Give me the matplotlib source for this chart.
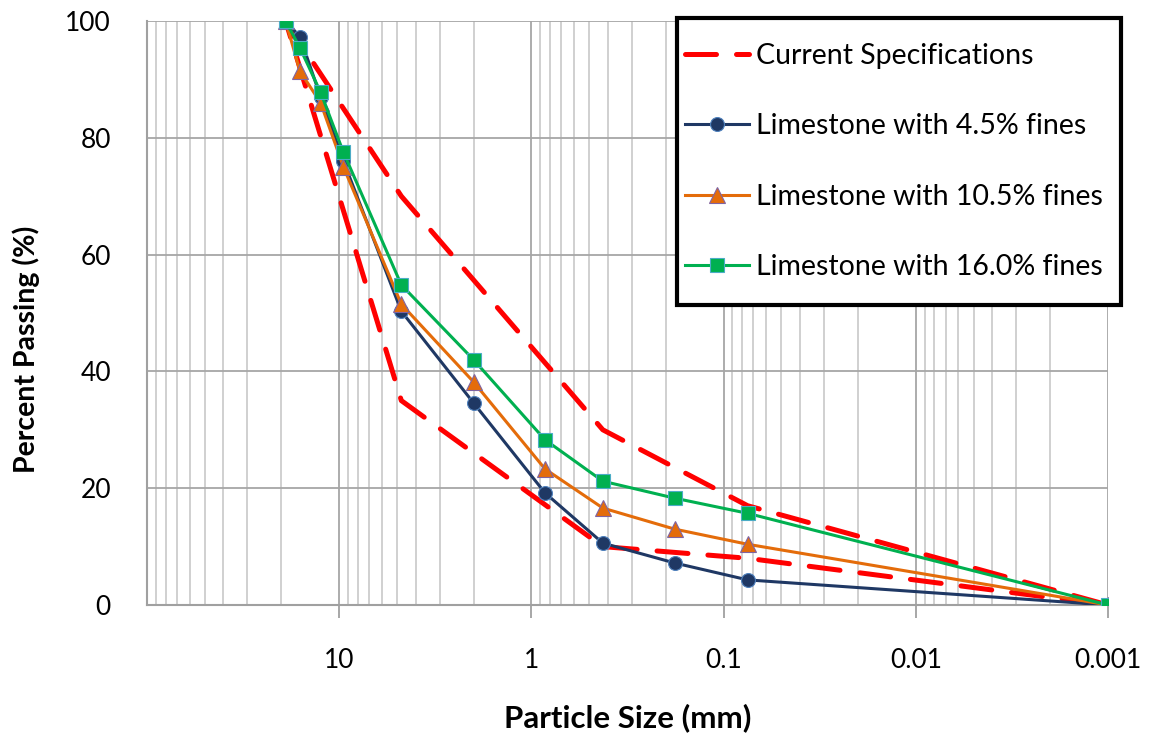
import matplotlib
matplotlib.use("Agg")
import matplotlib.pyplot as plt
from matplotlib.patches import Rectangle
from matplotlib.ticker import LogLocator, FixedLocator, NullFormatter

plt.rcParams['font.family'] = ['Lato', 'DejaVu Sans']

# Sieve sizes (mm)
sizes = [19.0, 16.0, 12.5, 9.5, 4.75, 2.0, 0.85, 0.425, 0.18, 0.075, 0.001]

lime_45 = [100, 97.3, 87.0, 76.0, 50.3, 34.6, 19.2, 10.6, 7.2, 4.3, 0]
lime_105 = [100, 91.4, 86.0, 75.0, 51.5, 38.2, 23.3, 16.6, 13.0, 10.4, 0]
lime_160 = [100, 95.4, 87.8, 77.5, 54.8, 42.0, 28.3, 21.2, 18.3, 15.7, 0]

# Specification envelope: upper band then lower band back up
spec_upper_sizes = [19.0, 4.75, 0.425, 0.075, 0.001]
spec_upper = [100, 70, 30, 17, 0]
spec_lower_sizes = [0.001, 0.075, 0.425, 4.75, 19.0]
spec_lower = [0, 8, 10, 35, 100]

labels = ["Current Specifications", "Limestone with 4.5% fines",
          "Limestone with 10.5% fines", "Limestone with 16.0% fines"]

xticks = [10, 1, 0.1, 0.01, 0.001]
xticklabels = ["10", "1", "0.1", "0.01", "0.001"]
yticks = [0, 20, 40, 60, 80, 100]

W, H = 1152, 736
fig = plt.figure(figsize=(W / 100, H / 100), dpi=100)
ax = fig.add_axes([147 / W, 1 - 605 / H, (1108 - 147) / W, (605 - 21) / H])

spec_x = spec_upper_sizes + spec_lower_sizes
spec_y = spec_upper + spec_lower
ax.plot(spec_x, spec_y, color='#FF0000', lw=3.6, dashes=(6.2, 4.0),
        label=labels[0], zorder=3, dash_capstyle='round')
ax.plot(sizes, lime_45, color='#1F3864', lw=2.2, marker='o', ms=10,
        mfc='#1F3864', mec='#4F81BD', mew=0.8, label=labels[1], zorder=4)
ax.plot(sizes, lime_105, color='#E46C0A', lw=2.2, marker='^', ms=11,
        mfc='#E46C0A', mec='#8064A2', mew=0.8, label=labels[2], zorder=5)
ax.plot(sizes, lime_160, color='#00B050', lw=2.2, marker='s', ms=10.5,
        mfc='#00B050', mec='#4BACC6', mew=0.8, label=labels[3], zorder=6)

ax.set_xscale('log')
ax.set_xlim(100, 0.001)
ax.set_ylim(0, 100)

ax.xaxis.set_major_locator(FixedLocator(xticks))
ax.set_xticklabels(xticklabels)
ax.xaxis.set_minor_locator(LogLocator(base=10, subs=range(2, 10), numticks=20))
ax.xaxis.set_minor_formatter(NullFormatter())
ax.set_yticks(yticks)

ax.grid(True, which='major', axis='both', color='#A6A6A6', lw=1.3)
ax.grid(True, which='minor', axis='x', color='#C8C8C8', lw=1.2)
ax.set_axisbelow(True)

for s in ['top', 'right']:
    ax.spines[s].set_visible(False)
for s in ['left', 'bottom']:
    ax.spines[s].set_color('#A0A0A0')
    ax.spines[s].set_linewidth(1.5)

ax.tick_params(axis='x', which='major', length=9, width=1.3, color='#A0A0A0',
               pad=22, labelsize=19)
ax.tick_params(axis='x', which='minor', length=0)
ax.tick_params(axis='y', length=0, pad=26, labelsize=19)

ax.set_xlabel("Particle Size (mm)", fontsize=22.5, fontweight='bold')
ax.xaxis.set_label_coords(0.5, -0.168)
ax.set_ylabel("Percent Passing (%)", fontsize=20.5, fontweight='bold')
ax.yaxis.set_label_coords(-0.111, 0.437)

# Legend box (Excel-style frame with generous vertical padding)
bx0, by0, bx1, by1 = 677, 18, 1121, 305
frame = Rectangle((bx0 / W, 1 - by1 / H), (bx1 - bx0) / W, (by1 - by0) / H,
                  transform=fig.transFigure, facecolor='white', edgecolor='black',
                  linewidth=3, zorder=9, clip_on=False)
ax.add_patch(frame)
leg = ax.legend(loc='center left',
                bbox_to_anchor=((bx0 + 8 - 147) / 961, (605 - (by0 + by1) / 2) / 584),
                fontsize=20.5, frameon=False, borderpad=0,
                labelspacing=1.55, handlelength=2.25, handletextpad=0.25,
                borderaxespad=0)
leg.set_zorder(10)

fig.savefig("out.png", dpi=100)
